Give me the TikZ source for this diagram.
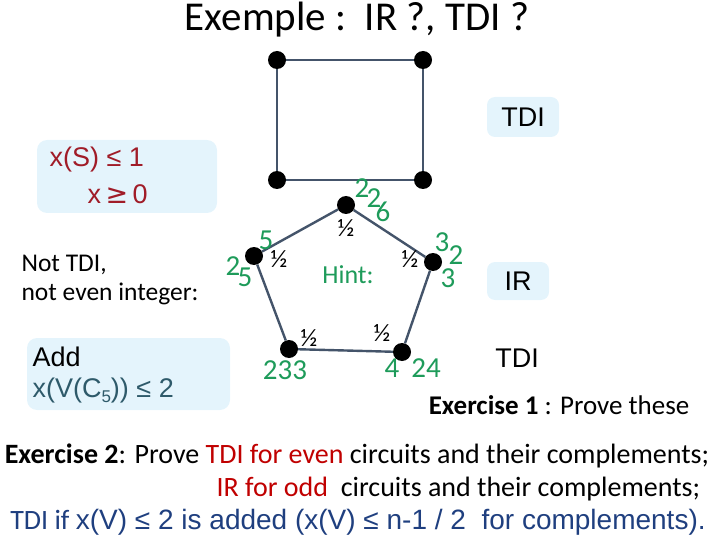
\documentclass[tikz,border=0pt]{standalone}
\usepackage{fontspec}
\setmainfont{Carlito}
\newfontfamily\arial{Liberation Sans}
\newfontfamily\djv{DejaVu Sans}
\definecolor{edge}{HTML}{44546A}
\definecolor{grn}{HTML}{1E9B5A}
\definecolor{dred}{HTML}{A01C28}
\definecolor{tealc}{HTML}{2E5A6A}
\definecolor{boxbg}{HTML}{E4F4FC}
\definecolor{bred}{HTML}{C00000}
\definecolor{dblue}{HTML}{1F3F7F}
\tikzset{v/.style={circle,fill=black,inner sep=0pt,minimum size=18pt},
 e/.style={draw=edge,line width=2.4pt},
 g/.style={text=grn,font=\fontsize{29}{29}\selectfont,inner sep=0pt},
 h/.style={font=\fontsize{25}{25}\selectfont,inner sep=0pt}}
\begin{document}
\begin{tikzpicture}[x=1pt,y=-1pt]
\useasboundingbox (0,0) rectangle (720,540);
\node[font=\fontsize{41}{41}\selectfont] (t) at (357,20) {Exemple :\ \ IR ?, TDI ?};
% boxes
\fill[boxbg,rounded corners=10pt] (37,140) rectangle (217,213);
\fill[boxbg,rounded corners=10pt] (27,338) rectangle (230,410);
\fill[boxbg,rounded corners=8pt] (487,97) rectangle (559,137);
\fill[boxbg,rounded corners=8pt] (487,262) rectangle (549,300);
% square
\node[v] (a) at (277,60) {};
\node[v] (b) at (423,60) {};
\node[v] (c) at (423,180) {};
\node[v] (d) at (277,180) {};
\draw[e] (a)--(b)--(c)--(d)--(a);
% pentagon
\node[v] (p1) at (346,205) {};
\node[v] (p2) at (433,262) {};
\node[v] (p3) at (402,352) {};
\node[v] (p4) at (289,349) {};
\node[v] (p5) at (254,256) {};
\draw[e] (p1)--(p2)--(p3)--(p4)--(p5)--(p1);
% halves
\node[h] (h1) at (346,228) {½};
\node[h] (h2) at (279,259) {½};
\node[h] (h3) at (410,259) {½};
\node[h] (h4) at (309,338) {½};
\node[h] (h5) at (382,333) {½};
\node[g,font=\fontsize{26}{26}\selectfont] (hint) at (348,275) {Hint:};
% green labels
\node[g] (l1) at (362,188) {2};
\node[g] (l2) at (374,198) {2};
\node[g] (l3) at (383,212) {6};
\node[g] (l4) at (442,242) {3};
\node[g] (l5) at (456,255) {2};
\node[g] (l6) at (448,278) {3};
\node[g] (l7) at (266,240) {5};
\node[g] (l8) at (233,266) {2};
\node[g] (l9) at (245,277) {5};
\node[g] (l10) at (285,370) {233};
\node[g] (l11) at (392,368) {4};
\node[g] (l12) at (426,368) {24};
% texts
\node[text=dred,font=\arial\fontsize{27}{27}\selectfont,anchor=west] (s1) at (46,160) {x(S) ≤ 1};
\node[text=dred,font=\arial\fontsize{27}{27}\selectfont,anchor=west] (s2) at (84,194) {x\,{\djv ≥}\,0};
\node[font=\fontsize{25.5}{25.5}\selectfont,anchor=west,align=left] (nt) at (18,280) {Not TDI,\\[3pt]not even integer:};
\node[font=\arial\fontsize{27}{27}\selectfont,anchor=west] (add) at (29,357) {Add};
\node[text=tealc,font=\arial\fontsize{27}{27}\selectfont,anchor=west] (xv) at (29,391) {x(V(C\raisebox{-5pt}{\fontsize{17}{17}\selectfont 5})) ≤ 2};
\node[font=\arial\fontsize{27}{27}\selectfont] (tdi1) at (523,117) {TDI};
\node[font=\arial\fontsize{27}{27}\selectfont] (ir) at (518,281) {IR};
\node[font=\arial\fontsize{27}{27}\selectfont] (tdi2) at (517,358) {TDI};
\node[font=\fontsize{27}{27}\selectfont] (ex1) at (559,405) {\textbf{Exercise 1} : Prove these};
\node[font=\fontsize{28}{28}\selectfont] (ex2) at (357,456) {\textbf{Exercise 2}: Prove \textcolor{bred}{TDI for even} circuits and their complements;};
\node[font=\fontsize{28}{28}\selectfont,anchor=west] (ex3) at (213,489) {\textcolor{bred}{IR for odd}\ \ circuits and their complements;};
\node[text=dblue,font=\fontsize{28}{28}\selectfont] (ex4) at (358,522) {TDI if {\arial x(V) ≤ 2 is added (x(V) ≤ n-1 / 2\ \ for complements).}};
\end{tikzpicture}
\end{document}
